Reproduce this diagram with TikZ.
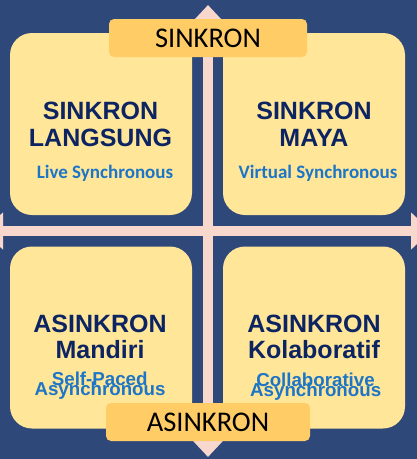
\documentclass[tikz,border=0pt]{standalone}
\usepackage{fontspec}
\setmainfont{Liberation Sans}
\newfontfamily\calfont{Carlito}
\usepackage{tikz}
\usetikzlibrary{arrows.meta}
\tikzset{>=stealth}

\definecolor{bgnavy}{HTML}{2E487A}
\definecolor{quadyellow}{HTML}{FFE699}
\definecolor{tagorange}{HTML}{FFCC66}
\definecolor{crosspink}{HTML}{F8D7CC}
\definecolor{titlenavy}{HTML}{0C2462}
\definecolor{subblue}{HTML}{1C75C6}

\tikzset{
  axisarrow/.style={crosspink, line width=10pt,
    {Triangle[width=36pt,length=20pt]}-{Triangle[width=36pt,length=20pt]}},
  quad/.style={fill=quadyellow, rounded corners=22pt, minimum width=182pt,
    minimum height=182pt, inner sep=0pt},
  tag/.style={fill=tagorange, rounded corners=5pt, minimum height=38pt,
    inner sep=0pt, text=black, font=\calfont\fontsize{28.5}{32}\selectfont},
  title/.style={anchor=base, inner sep=0pt, text=titlenavy,
    font=\fontsize{25}{30}\selectfont\bfseries},
  subtitle/.style={anchor=base, inner sep=0pt, text=subblue,
    font=\calfont\fontsize{19}{23}\selectfont\bfseries},
  subnote/.style={anchor=base, inner sep=0pt, text=subblue,
    font=\fontsize{18.7}{22}\selectfont\bfseries}
}

\begin{document}
\begin{tikzpicture}[x=1pt,y=-1pt]
  \useasboundingbox (0,0) rectangle (417,459);
  \clip (0,0) rectangle (417,459);
  \fill[bgnavy] (0,0) rectangle (417,459);

  % Axes
  \coordinate (top) at (208,5);
  \coordinate (bottom) at (208,457);
  \coordinate (left) at (-17,231);
  \coordinate (right) at (431,231);
  \draw[axisarrow] (left) -- (right);
  \draw[axisarrow] (bottom) -- (top);

  % Quadrants
  \node[quad] (langsung) at (101,124) {};
  \node[quad] (maya) at (314,124) {};
  \node[quad] (mandiri) at (101,337.5) {};
  \node[quad] (kolab) at (314,337.5) {};

  % Axis tags
  \node[tag, minimum width=198pt] (sinkron) at (208,38) {SINKRON};
  \node[tag, minimum width=204pt] (asinkron) at (208,422) {ASINKRON};

  % Add labels
  \node[title] (langsungA) at (100.5,119) {SINKRON};
  \node[title] (langsungB) at (100.5,146) {LANGSUNG};
  \node[subtitle] (langsungC) at (105,178) {Live Synchronous};

  \node[title] (mayaA) at (314,119) {SINKRON};
  \node[title] (mayaB) at (314,146) {MAYA};
  \node[subtitle] (mayaC) at (318,178) {Virtual Synchronous};

  \node[title] (mandiriA) at (100,332) {ASINKRON};
  \node[title] (mandiriB) at (100,358) {Mandiri};
  \node[subnote] (mandiriC) at (99.7,385) {Self-Paced};
  \node[subnote] (mandiriD) at (100,395) {Asynchronous};

  \node[title] (kolabA) at (314,332) {ASINKRON};
  \node[title] (kolabB) at (314,358) {Kolaboratif};
  \node[subnote] (kolabC) at (315.5,386.5) {Collaborative};
  \node[subnote] (kolabD) at (315.7,396) {Asynchronous};
\end{tikzpicture}
\end{document}
